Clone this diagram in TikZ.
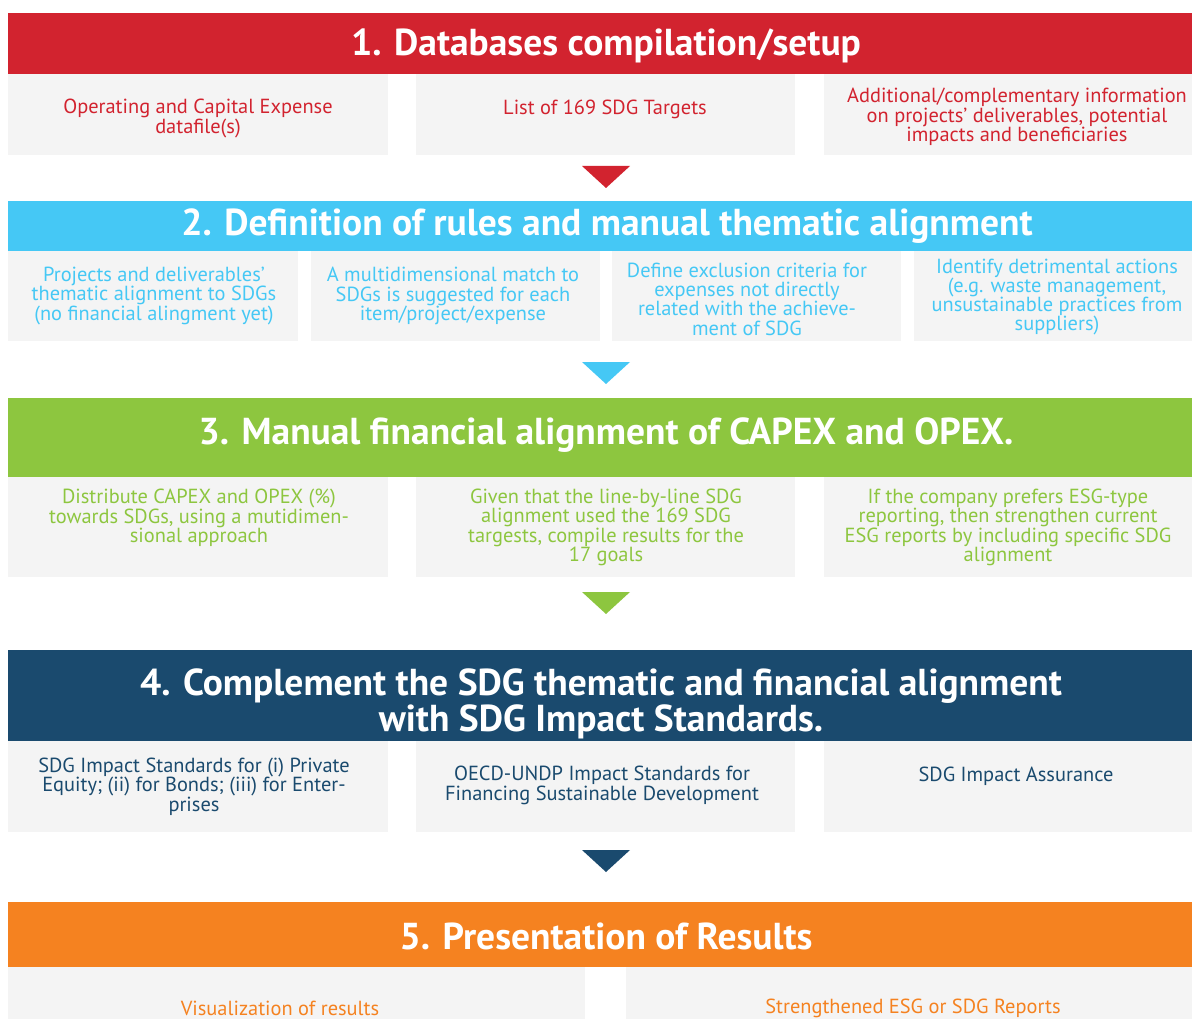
\documentclass[tikz,border=0pt]{standalone}
\usepackage{fontspec}
\setmainfont{PT Sans}
\definecolor{sdgred}{HTML}{D2232F}
\definecolor{sdgcyan}{HTML}{45C8F5}
\definecolor{sdggreen}{HTML}{8DC63F}
\definecolor{sdgnavy}{HTML}{1A4A6E}
\definecolor{sdgorange}{HTML}{F58220}
\definecolor{boxgray}{HTML}{F4F4F4}

\begin{document}
\begin{tikzpicture}[x=1pt,y=-1pt,
  head/.style={text=white,font=\fontsize{37.5}{32}\selectfont\bfseries,align=center,inner sep=0pt,yshift=-2.5pt},
  item/.style={font=\fontsize{20.4}{19.3}\selectfont,align=center,inner sep=0pt,yshift=-2pt}]
\useasboundingbox (0,0) rectangle (1192,1019);

% 1. databases
\fill[sdgred] (8,13) rectangle (1192,74);
\fill[boxgray] (8,74) rectangle (388,155);
\fill[boxgray] (416,74) rectangle (795,155);
\fill[boxgray] (824,74) rectangle (1192,155);
\node[head] (h1) at (606,43) {1. Databases compilation/setup};
\node[item,text=sdgred] (d1) at (198,116.5) {Operating and Capital Expense\\datafile(s)};
\node[item,text=sdgred] (d2) at (605,107) {List of 169 SDG Targets};
\node[item,text=sdgred] (d3) at (1017,115) {Additional/complementary information\\on projects' deliverables, potential\\impacts and beneficiaries};
\fill[sdgred] (582,166) -- (630,166) -- (606,188) -- cycle;

% 2. rules
\fill[sdgcyan] (8,201) rectangle (1192,251);
\fill[boxgray] (8,251) rectangle (298,341);
\fill[boxgray] (311,251) rectangle (600,341);
\fill[boxgray] (612,251) rectangle (901,341);
\fill[boxgray] (914,251) rectangle (1192,341);
\node[head] (h2) at (607,224) {2. Definition of rules and manual thematic alignment};
\node[item,text=sdgcyan] (r1) at (154,294) {Projects and deliverables'\\thematic alignment to SDGs\\(no financial alingment yet)};
\node[item,text=sdgcyan] (r2) at (453,294) {A multidimensional match to\\SDGs is suggested for each\\item/project/expense};
\node[item,text=sdgcyan] (r3) at (747,297) {Define exclusion criteria for\\expenses not directly\\related with the achieve-\\ment of SDG};
\node[item,text=sdgcyan] (r4) at (1057,295) {Identify detrimental actions\\(e.g. waste management,\\unsustainable practices from\\suppliers)};
\fill[sdgcyan] (582,362) -- (630,362) -- (606,384) -- cycle;

% 3. financial alignment
\fill[sdggreen] (8,398) rectangle (1192,477);
\fill[boxgray] (8,477) rectangle (388,577);
\fill[boxgray] (416,477) rectangle (795,577);
\fill[boxgray] (824,477) rectangle (1192,577);
\node[head] (h3) at (606,433) {3. Manual financial alignment of CAPEX and OPEX.};
\node[item,text=sdggreen] (f1) at (199,516) {Distribute CAPEX and OPEX (\%)\\towards SDGs, using a mutidimen-\\sional approach};
\node[item,text=sdggreen] (f2) at (606,525.5) {Given that the line-by-line SDG\\alignment used the 169 SDG\\targests, compile results for the\\17 goals};
\node[item,text=sdggreen] (f3) at (1008,525.5) {If the company prefers ESG-type\\reporting, then strengthen current\\ESG reports by including specific SDG\\alignment};
\fill[sdggreen] (582,592) -- (630,592) -- (606,614) -- cycle;

% 4. impact standards
\fill[sdgnavy] (8,650) rectangle (1192,741);
\fill[boxgray] (8,741) rectangle (388,832);
\fill[boxgray] (416,741) rectangle (795,832);
\fill[boxgray] (824,741) rectangle (1192,832);
\node[head] (h4) at (601,701) {4. Complement the SDG thematic and financial alignment\\with SDG Impact Standards.};
\node[item,text=sdgnavy] (s1) at (194,784.5) {SDG Impact Standards for (i) Private\\Equity; (ii) for Bonds; (iii) for Enter-\\prises};
\node[item,text=sdgnavy] (s2) at (602,783.5) {OECD-UNDP Impact Standards for\\Financing Sustainable Development};
\node[item,text=sdgnavy] (s3) at (1016,774) {SDG Impact Assurance};
\fill[sdgnavy] (582,850) -- (630,850) -- (606,872) -- cycle;

% 5. results
\fill[sdgorange] (8,902) rectangle (1192,967);
\fill[boxgray] (8,967) rectangle (585,1019);
\fill[boxgray] (626,967) rectangle (1192,1019);
\node[head] (h5) at (606,934) {5. Presentation of Results};
\node[item,text=sdgorange] (p1) at (280,1006) {Visualization of results};
\node[item,text=sdgorange] (p2) at (913,1006) {Strengthened ESG or SDG Reports};
\end{tikzpicture}
\end{document}
